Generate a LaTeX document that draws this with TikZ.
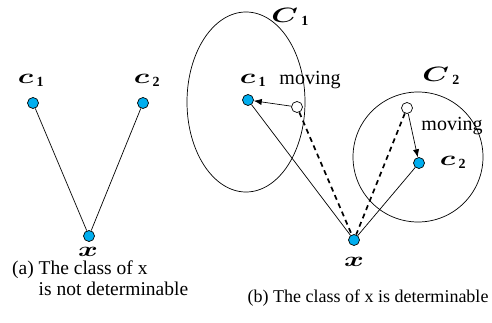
\documentclass[tikz,border=0pt]{standalone}
\usepackage{fontspec}
\setmainfont{Liberation Serif}
\usepackage{graphicx}
\usepackage{bm}
\usetikzlibrary{arrows.meta,shapes.geometric}
\definecolor{dotblue}{RGB}{0,174,239}
\newcommand{\widemath}[1]{\scalebox{1.45}[1]{$\bm{#1}$}}

\begin{document}
\begin{tikzpicture}[
    x=1pt, y=1pt,
    centre/.style={circle, draw, line width=0.7pt, fill=dotblue, minimum size=11pt, inner sep=0pt},
    oldpos/.style={circle, draw, line width=0.7pt, fill=white, minimum size=11pt, inner sep=0pt},
    mathlabel/.style={font=\fontsize{20}{22}\selectfont, inner sep=0pt},
    wordlabel/.style={font=\fontsize{20}{22}\selectfont, inner sep=0pt},
    caption/.style={font=\fontsize{19.5}{21}\selectfont, align=left, inner sep=0pt},
    cluster/.style={draw, line width=0.7pt, inner sep=0pt},
    link/.style={line width=0.7pt},
    shiftline/.style={line width=1.7pt, dash pattern=on 5pt off 4pt},
    moveto/.style={-{Latex[length=2.8mm, width=2.2mm]}, line width=0.7pt}
]
\useasboundingbox (0,0) rectangle (492,-323);

% (a) two centres at equal distance
\node[centre] (ac1) at (33,-103) {};
\node[centre] (ac2) at (143,-103) {};
\node[centre] (ax) at (89,-236) {};
\node[mathlabel] (ac1lab) at (31,-80) {\widemath{c}\,$_{\mathbf{1}}$};
\node[mathlabel] (ac2lab) at (147,-80) {\widemath{c}\,$_{\mathbf{2}}$};
\node[mathlabel] (axlab) at (88,-252) {\widemath{x}};
\draw[link] (ac1) -- (ax);
\draw[link] (ac2) -- (ax);
\node[caption, anchor=north west] (capa) at (12,-261) {(a) The class of x\\\phantom{(a) }is not determinable};

% (b) clusters and moved centres
\node[cluster, ellipse, minimum width=118pt, minimum height=180pt] (C1) at (246,-102) {};
\node[cluster, circle, minimum size=130pt] (C2) at (418,-157) {};
\node[mathlabel] (C1lab) at (290,-17) {\widemath{C}\,$_{\mathbf{1}}$};
\node[mathlabel] (C2lab) at (441,-76) {\widemath{C}\,$_{\mathbf{2}}$};

\node[centre] (bc1) at (248,-100) {};
\node[centre] (bc2) at (419,-163) {};
\node[centre] (bx) at (354,-240) {};
\node[oldpos] (old1) at (297,-107) {};
\node[oldpos] (old2) at (407,-108) {};

\node[mathlabel] (bc1lab) at (253,-80) {\widemath{c}\,$_{\mathbf{1}}$};
\node[mathlabel] (bc2lab) at (453,-162) {\widemath{c}\,$_{\mathbf{2}}$};
\node[mathlabel] (bxlab) at (354,-262) {\widemath{x}};
\node[wordlabel] (mov1) at (310,-80) {moving};
\node[wordlabel] (mov2) at (452,-126) {moving};

\draw[link] (bc1) -- (bx);
\draw[link] (bc2) -- (bx);
\draw[shiftline] (old1) -- (bx);
\draw[shiftline] (old2) -- (bx);
\draw[moveto] (old1) -- (bc1);
\draw[moveto] (old2) -- (bc2);

\node[caption, font=\fontsize{18}{21}\selectfont] (capb) at (368,-298) {(b) The class of x is determinable};
\end{tikzpicture}
\end{document}
